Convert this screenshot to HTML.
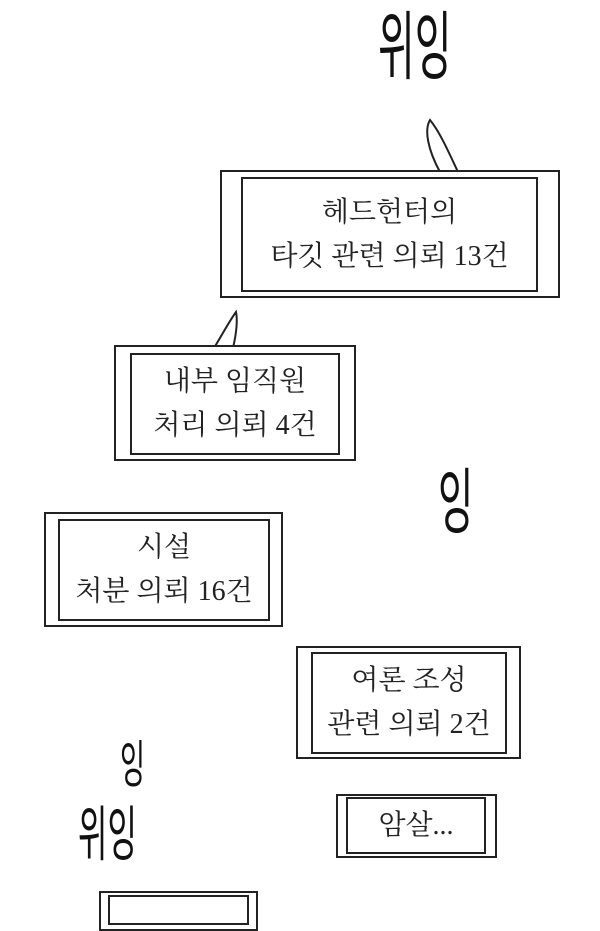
<!DOCTYPE html>
<html><head><meta charset="utf-8"><style>
html,body{margin:0;padding:0;background:#fff;}
body{width:600px;height:900px;position:relative;overflow:hidden;font-family:"Liberation Serif","Noto Serif CJK SC","Noto Sans CJK KR",serif;color:#222;}
.o{position:absolute;border:2px solid #222;background:#fff;box-sizing:border-box;}
.i{position:absolute;border:2px solid #222;box-sizing:border-box;display:flex;flex-direction:column;align-items:center;justify-content:center;font-size:28px;line-height:44px;}
.sfx{position:absolute;font-family:"WenQuanYi Zen Hei","Noto Sans CJK KR",sans-serif;font-weight:normal;color:#111;transform:scale(0.8,1.5);transform-origin:left top;line-height:1;}
</style></head><body>
<svg style="position:absolute;left:0;top:0" width="600" height="900">
<path d="M440 172 C428 150 424 130 430 120 C440 132 450 155 458 172" fill="#fff" stroke="#222" stroke-width="2"/>
<path d="M214 348 C222 335 230 320 236 312 C238 322 236 335 233 348" fill="#fff" stroke="#222" stroke-width="2"/>
</svg>
<div class="o" style="left:220px;top:170px;width:340px;height:128px"></div>
<div class="i" style="left:241px;top:177px;width:297px;height:115px"><div>헤드헌터의</div><div>타깃 관련 의뢰 13건</div></div>
<div class="o" style="left:114px;top:345px;width:242px;height:116px"></div>
<div class="i" style="left:130px;top:353px;width:210px;height:102px"><div>내부 임직원</div><div>처리 의뢰 4건</div></div>
<div class="o" style="left:44px;top:512px;width:239px;height:115px"></div>
<div class="i" style="left:58px;top:519px;width:212px;height:102px"><div>시설</div><div>처분 의뢰 16건</div></div>
<div class="o" style="left:296px;top:646px;width:225px;height:113px"></div>
<div class="i" style="left:311px;top:652px;width:196px;height:102px"><div>여론 조성</div><div>관련 의뢰 2건</div></div>
<div class="o" style="left:336px;top:794px;width:161px;height:64px"></div>
<div class="i" style="left:346px;top:797px;width:140px;height:57px"><div>암살...</div></div>
<div class="o" style="left:99px;top:891px;width:159px;height:40px"></div>
<div class="i" style="left:108px;top:895px;width:141px;height:30px"></div>
<div class="sfx" style="left:378px;top:4px;font-size:50px;">위잉</div>
<div class="sfx" style="left:438px;top:460px;font-size:48px;">잉</div>
<div class="sfx" style="left:120px;top:736px;font-size:34px;">잉</div>
<div class="sfx" style="left:78px;top:800px;font-size:40px;">위잉</div>
</body></html>
